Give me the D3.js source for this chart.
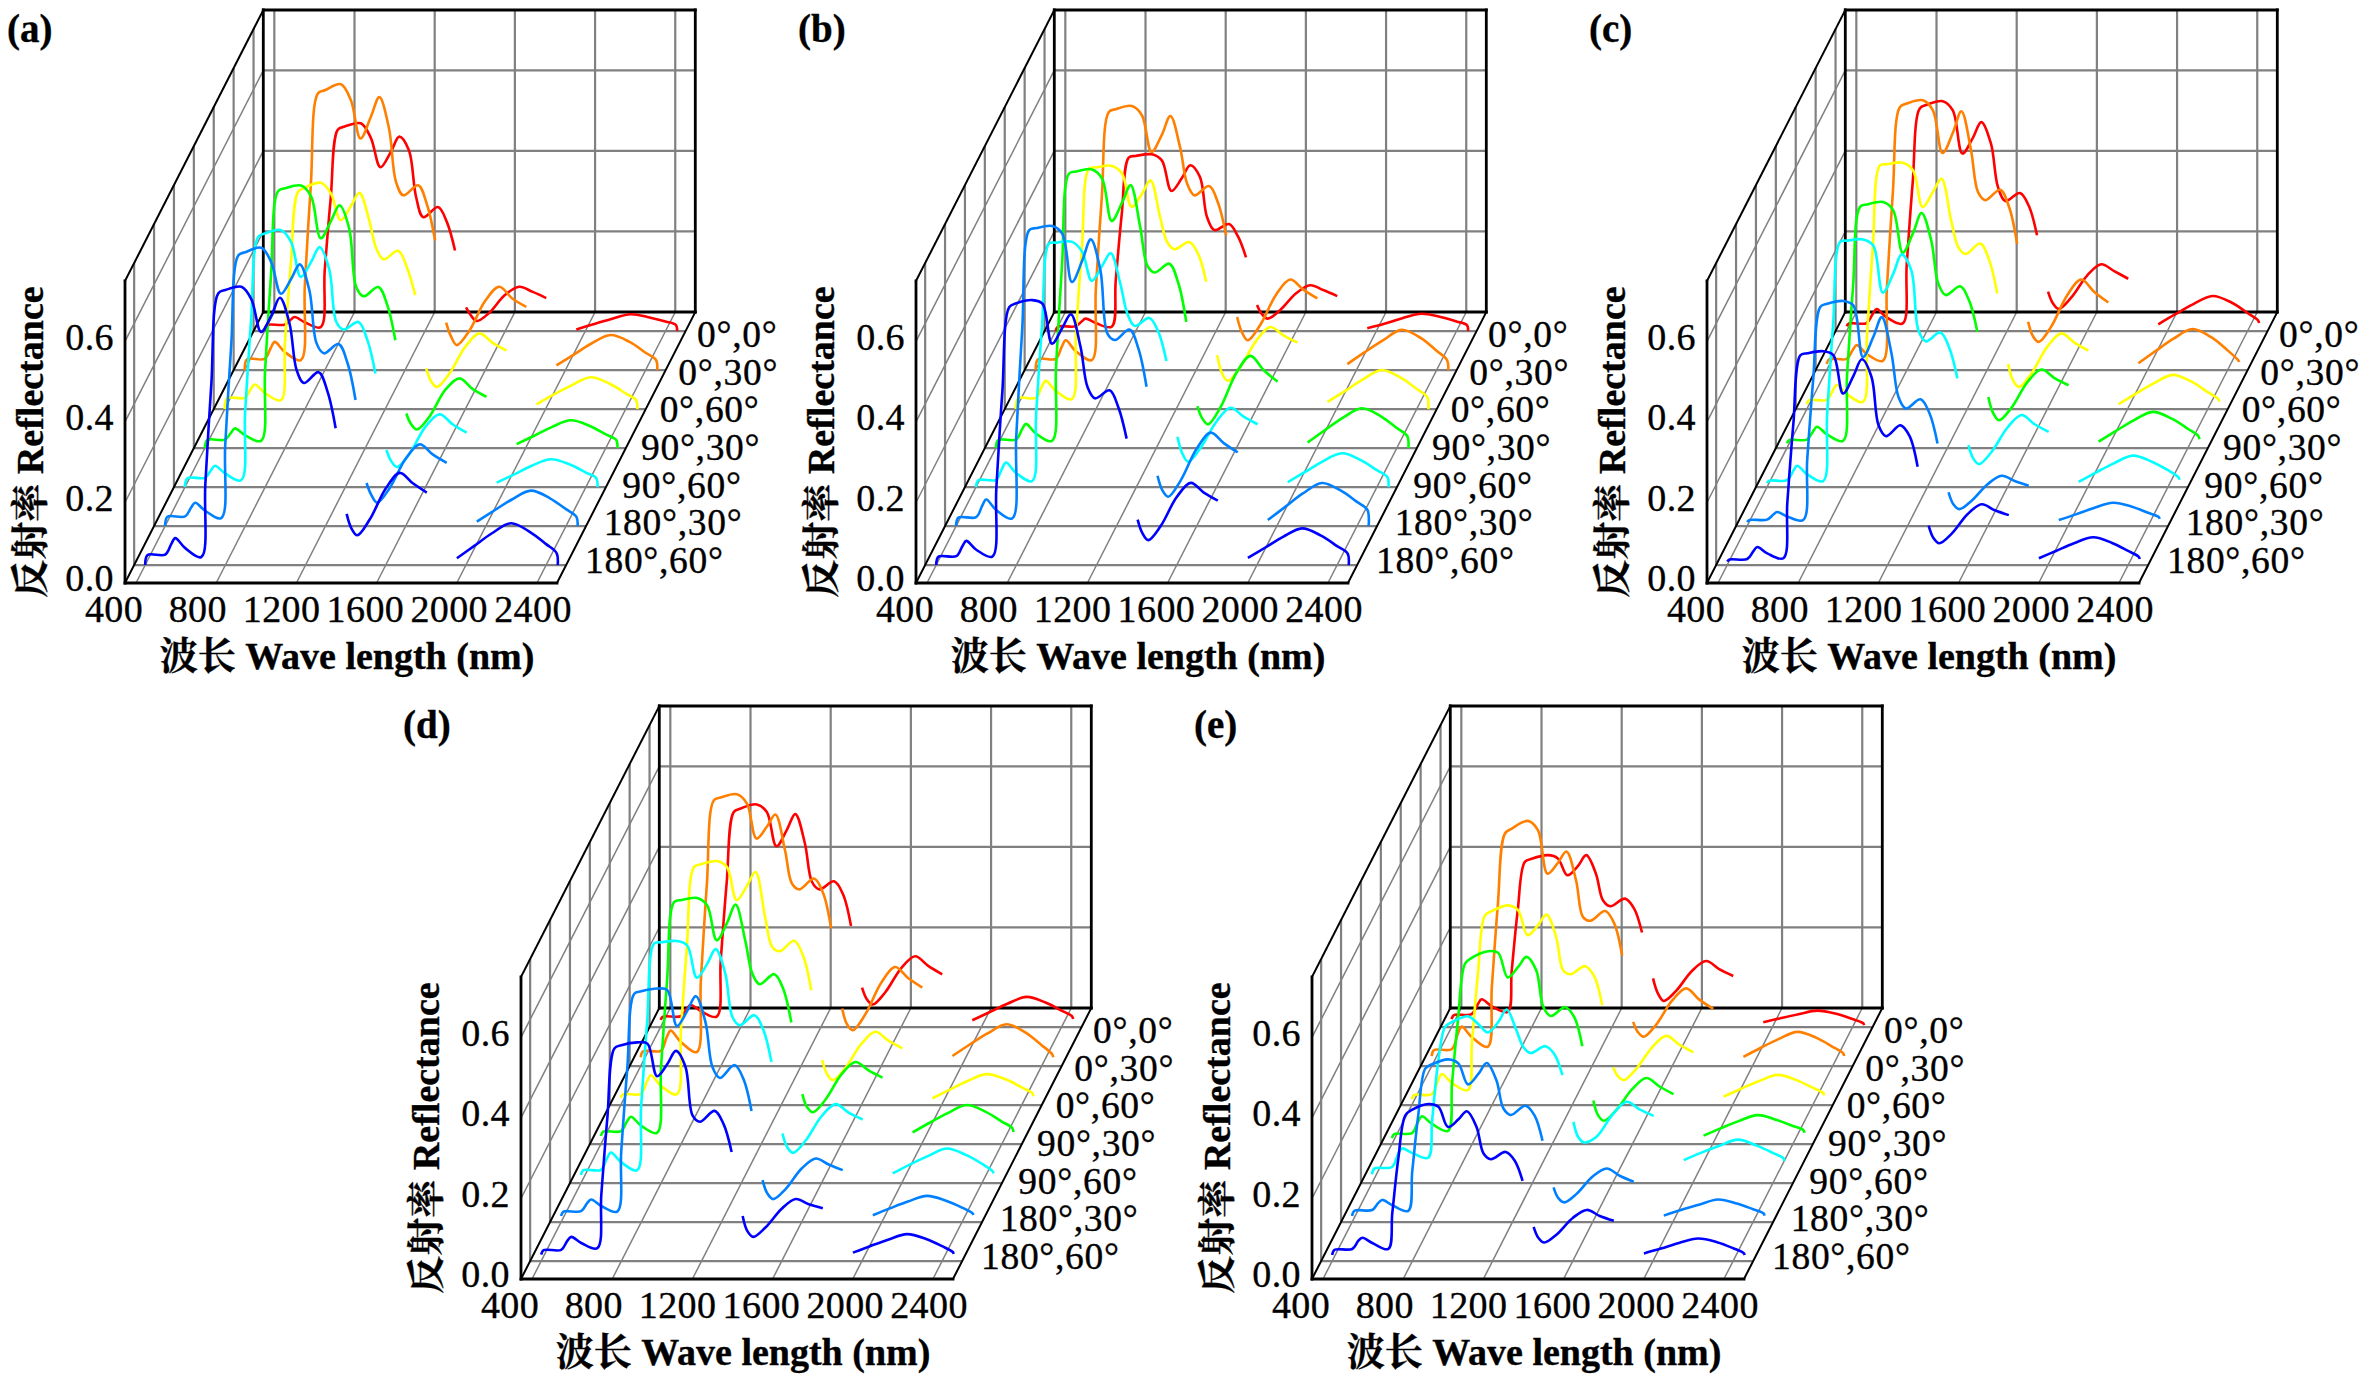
<!DOCTYPE html>
<html><head><meta charset="utf-8">
<script src="https://cdn.jsdelivr.net/npm/d3@7"></script>
<style>html,body{margin:0;padding:0;background:#fff}svg{display:block}text{font-family:"Liberation Serif","Noto Serif CJK SC","Noto Sans CJK SC",serif;fill:#000;stroke:#000;stroke-width:.35px}</style>
</head><body><svg id="c" width="2368" height="1386"></svg>
<script>
// wavelength grid shared by all spectra (water-vapour bands are left out)
const wlVis=[400,412,500,530,550,600,680,700,730,765,800,880,930,978,1030,1072,1120,1155,1192,1265,1310,1350];
const wlSwir1=[1405,1428,1458,1520,1600,1670,1735,1805];
const wlSwir2=[1955,2040,2130,2225,2320,2400,2452,2458];
const wlTicks=[400,800,1200,1600,2000,2400];
const rTicks=[0,0.2,0.4,0.6];
const angles=["0°,0°","0°,30°","0°,60°","90°,30°","90°,60°","180°,30°","180°,60°"];
const colors=["#ff0000","#ff8000","#ffff00","#00ff00","#00ffff","#0080ff","#0000ff"];
const panelNames=["(a)","(b)","(c)","(d)","(e)"];

// reflectance, one list per panel and view angle
const a_0_0=[.002,.015,.016,.028,.035,.022,.01,.15,.33,.50,.508,.516,.48,.407,.445,.483,.449,.335,.283,.308,.27,.20,.059,.04,.025,.045,.09,.11,.098,.082,.004,.017,.03,.042,.034,.024,.015,0];
const a_0_30=[0,.027,.028,.055,.07,.045,.025,.21,.46,.687,.695,.71,.67,.575,.63,.678,.60,.467,.434,.459,.41,.322,.118,.085,.062,.097,.172,.207,.178,.157,.012,.038,.066,.087,.07,.043,.025,0];
const a_0_60=[0,.027,.028,.05,.061,.04,.022,.165,.363,.539,.55,.562,.535,.469,.505,.537,.47,.40,.372,.393,.35,.283,.101,.07,.055,.088,.155,.188,.165,.145,.012,.036,.059,.079,.063,.039,.022,0];
const a_90_30=[0,.02,.021,.038,.049,.032,.018,.19,.43,.638,.645,.652,.625,.521,.565,.603,.545,.40,.377,.40,.355,.268,.086,.06,.046,.078,.145,.173,.147,.127,.01,.03,.052,.069,.055,.034,.02,0];
const a_90_60=[0,.022,.023,.042,.053,.034,.017,.185,.415,.621,.63,.638,.608,.522,.56,.596,.54,.41,.391,.41,.365,.282,.092,.065,.05,.083,.15,.181,.156,.135,.011,.031,.053,.069,.056,.036,.022,0];
const a_180_30=[0,.023,.024,.046,.058,.038,.02,.20,.45,.672,.68,.691,.655,.577,.615,.65,.585,.455,.429,.452,.405,.313,.107,.078,.058,.094,.167,.203,.178,.157,.011,.038,.066,.088,.069,.042,.023,0];
const a_180_60=[0,.025,.026,.052,.067,.042,.02,.20,.45,.675,.683,.691,.66,.579,.62,.664,.60,.485,.452,.479,.43,.34,.127,.092,.074,.113,.19,.229,.203,.18,.017,.047,.079,.104,.082,.052,.03,0];

const b_0_0=[0,.011,.012,.024,.031,.02,.011,.125,.29,.431,.435,.439,.424,.348,.38,.412,.383,.284,.251,.266,.235,.183,.065,.043,.031,.052,.094,.114,.102,.087,.007,.018,.032,.043,.035,.024,.015,0];
const b_0_30=[0,.027,.028,.058,.074,.047,.025,.20,.43,.641,.648,.656,.633,.542,.585,.631,.554,.464,.434,.457,.415,.335,.132,.095,.074,.112,.188,.225,.2,.178,.015,.044,.073,.10,.08,.048,.025,0];
const b_0_60=[0,.027,.028,.056,.07,.045,.025,.185,.40,.597,.60,.604,.585,.502,.535,.568,.477,.415,.397,.415,.385,.316,.134,.09,.07,.104,.17,.204,.183,.165,.018,.044,.073,.097,.078,.05,.03,0];
const b_90_30=[0,.02,.021,.046,.06,.036,.018,.20,.455,.682,.687,.692,.669,.564,.61,.653,.549,.454,.436,.458,.41,.313,.104,.075,.059,.101,.187,.229,.194,.165,.014,.044,.075,.099,.079,.05,.03,0];
const b_90_60=[0,.017,.018,.046,.061,.035,.015,.18,.405,.605,.607,.609,.584,.512,.55,.581,.505,.431,.40,.42,.385,.313,.125,.085,.063,.097,.163,.197,.175,.156,.012,.037,.064,.084,.067,.042,.025,0];
const b_180_30=[0,.021,.022,.05,.066,.04,.019,.22,.49,.735,.74,.745,.726,.606,.66,.712,.635,.478,.462,.488,.44,.346,.125,.09,.073,.113,.192,.232,.206,.183,.015,.047,.081,.107,.088,.06,.04,0];
const b_180_60=[0,.021,.022,.046,.06,.038,.021,.19,.43,.641,.65,.658,.649,.55,.59,.623,.542,.442,.414,.434,.39,.314,.113,.08,.062,.097,.169,.204,.18,.16,.018,.043,.07,.091,.073,.047,.029,0];

const c_0_0=[.012,.019,.02,.042,.055,.034,.019,.165,.37,.553,.562,.571,.548,.441,.48,.519,.466,.358,.323,.343,.31,.238,.098,.07,.055,.083,.138,.166,.149,.13,.017,.042,.067,.087,.071,.045,.027,.02];
const c_0_30=[.015,.027,.028,.05,.062,.04,.023,.2,.44,.653,.662,.67,.645,.539,.59,.643,.546,.442,.422,.448,.405,.314,.12,.085,.07,.108,.186,.225,.194,.168,.017,.047,.078,.102,.081,.049,.025,.02];
const c_0_60=[.012,.022,.023,.046,.06,.037,.018,.18,.405,.605,.608,.612,.593,.502,.54,.572,.469,.403,.385,.411,.37,.287,.112,.072,.055,.088,.155,.188,.165,.145,.012,.038,.064,.085,.068,.042,.025,.018];
const c_90_30=[.012,.02,.021,.041,.053,.034,.018,.18,.40,.599,.605,.611,.591,.485,.535,.584,.516,.409,.38,.402,.365,.289,.127,.088,.069,.1,.164,.195,.174,.156,.016,.042,.069,.09,.073,.048,.03,.022];
const c_90_60=[.01,.016,.017,.039,.053,.032,.015,.18,.405,.609,.612,.615,.60,.483,.53,.578,.538,.39,.362,.384,.345,.27,.104,.072,.057,.087,.148,.179,.156,.137,.013,.036,.059,.078,.063,.042,.025,.018];
const c_180_30=[.01,.015,.016,.028,.035,.024,.015,.165,.365,.544,.552,.559,.548,.42,.47,.519,.43,.321,.292,.315,.28,.205,.084,.055,.042,.063,.104,.125,.112,.1,.015,.029,.045,.058,.048,.033,.023,.018];
const c_180_60=[.009,.014,.015,.034,.045,.029,.017,.155,.35,.521,.526,.531,.521,.426,.47,.511,.467,.347,.32,.347,.32,.244,.098,.068,.054,.078,.127,.151,.136,.124,.017,.035,.054,.069,.055,.035,.021,.015];

const d_0_0=[.018,.026,.027,.045,.055,.04,.026,.165,.36,.534,.543,.553,.534,.449,.49,.529,.456,.361,.342,.362,.33,.251,.098,.07,.056,.086,.146,.176,.152,.131,.017,.037,.058,.075,.061,.041,.027,.02];
const d_0_30=[.022,.037,.038,.072,.088,.06,.035,.21,.45,.66,.667,.675,.652,.565,.595,.625,.536,.453,.439,.466,.43,.342,.143,.105,.089,.128,.207,.246,.218,.195,.025,.053,.081,.104,.083,.052,.03,.022];
const d_0_60=[.018,.027,.028,.058,.074,.048,.027,.185,.395,.591,.598,.606,.591,.509,.545,.579,.467,.393,.382,.408,.37,.285,.112,.078,.062,.092,.152,.182,.16,.141,.017,.038,.06,.077,.064,.044,.03,.022];
const d_90_30=[.02,.031,.032,.056,.068,.046,.028,.19,.405,.601,.606,.611,.593,.506,.55,.595,.506,.424,.397,.422,.385,.302,.124,.092,.079,.11,.173,.204,.183,.165,.029,.053,.077,.097,.08,.056,.04,.03];
const d_90_60=[.02,.032,.033,.062,.076,.052,.032,.19,.40,.595,.598,.601,.59,.51,.545,.581,.52,.413,.392,.417,.38,.301,.123,.09,.075,.105,.166,.196,.175,.158,.024,.046,.067,.086,.07,.048,.03,.024];
const d_180_30=[.015,.026,.027,.047,.056,.04,.026,.175,.38,.567,.573,.58,.576,.487,.525,.561,.497,.385,.358,.39,.355,.276,.104,.072,.057,.082,.133,.158,.143,.129,.017,.034,.051,.065,.053,.036,.022,.018];
const d_180_60=[.016,.027,.028,.05,.06,.045,.032,.165,.355,.528,.536,.543,.54,.459,.49,.522,.482,.362,.346,.373,.34,.271,.112,.075,.06,.084,.13,.154,.141,.131,.021,.037,.053,.067,.055,.037,.023,.018];

const e_0_0=[.02,.03,.032,.056,.069,.052,.038,.14,.29,.41,.418,.427,.419,.377,.40,.427,.381,.315,.30,.319,.295,.235,.121,.085,.065,.09,.14,.164,.144,.127,.012,.022,.032,.041,.033,.02,.01,.005];
const e_0_30=[.025,.04,.042,.08,.098,.072,.048,.195,.40,.577,.59,.609,.586,.478,.505,.533,.462,.37,.361,.385,.355,.275,.11,.085,.073,.103,.163,.193,.165,.142,.023,.045,.067,.085,.07,.048,.032,.025];
const e_0_60=[.015,.025,.027,.06,.077,.055,.037,.155,.325,.471,.482,.496,.484,.422,.447,.473,.418,.335,.325,.345,.32,.248,.094,.072,.062,.09,.144,.172,.15,.131,.021,.04,.059,.075,.062,.043,.03,.024];
const e_90_30=[.015,.025,.027,.055,.069,.05,.033,.15,.31,.448,.463,.479,.475,.414,.44,.465,.432,.341,.318,.34,.315,.243,.108,.072,.058,.085,.137,.164,.143,.124,.021,.039,.057,.072,.06,.045,.035,.028];
const e_90_60=[.022,.036,.04,.072,.086,.075,.063,.155,.30,.388,.40,.414,.395,.374,.40,.431,.38,.338,.323,.34,.32,.268,.152,.115,.101,.115,.17,.202,.183,.167,.057,.075,.092,.108,.093,.075,.062,.055];
const e_180_30=[.015,.028,.03,.047,.055,.042,.028,.125,.265,.381,.392,.404,.394,.342,.368,.395,.352,.282,.266,.289,.265,.202,.086,.06,.049,.07,.113,.133,.115,.10,.016,.03,.043,.056,.046,.032,.022,.016];
const e_180_60=[.015,.028,.03,.05,.058,.045,.03,.12,.255,.362,.376,.39,.383,.333,.352,.372,.333,.267,.253,.271,.25,.199,.085,.058,.046,.066,.107,.127,.112,.10,.019,.031,.045,.056,.047,.032,.02,.015];

const panelSpectra=[
 [a_0_0,a_0_30,a_0_60,a_90_30,a_90_60,a_180_30,a_180_60],
 [b_0_0,b_0_30,b_0_60,b_90_30,b_90_60,b_180_30,b_180_60],
 [c_0_0,c_0_30,c_0_60,c_90_30,c_90_60,c_180_30,c_180_60],
 [d_0_0,d_0_30,d_0_60,d_90_30,d_90_60,d_180_30,d_180_60],
 [e_0_0,e_0_30,e_0_60,e_90_30,e_90_60,e_180_30,e_180_60]];

const layout=[[0,0],[791,0],[1582,0],[396,696],[1187,696]];

// oblique projection built from three scales
const xS=d3.scaleLinear().domain([345,2500]).range([125,557]);       // wavelength along the front edge
const zS=d3.scaleLinear().domain([0,0.75]).range([0,302]);           // reflectance upwards
const depth=d3.scaleLinear().domain([-0.46,6.49]).range([0,1]);      // row index into the picture
const dxS=d3.scaleLinear().domain([0,1]).range([0,138.3]);
const dyS=d3.scaleLinear().domain([0,1]).range([583,312]);
const P=(w,d,r)=>[xS(w)+dxS(depth(d)),dyS(depth(d))-zS(r)];
const D0=-0.46,D1=6.49,W0=345,W1=2500,R1=0.75;
const wXLabel=d3.scaleLinear().domain([400,2400]).range([114,533]);
const rYLabel=d3.scaleLinear().domain([0,0.6]).range([591,350]);
const rowX=d3.scaleLinear().domain([6,0]).range([697,585]);
const rowY=d3.scaleLinear().domain([6,0]).range([347,573]);

const svg=d3.select("#c");
const seg=d3.line().curve(d3.curveCatmullRom.alpha(0.5));
const L=(g,a,b,col,w)=>g.append("line").attr("x1",a[0]).attr("y1",a[1]).attr("x2",b[0]).attr("y2",b[1]).attr("stroke",col).attr("stroke-width",w);

panelSpectra.forEach((curves,pi)=>{
  const g=svg.append("g").attr("transform",`translate(${layout[pi][0]},${layout[pi][1]})`);
  const grey="#808080";
  const grid=g.append("g");
  // back wall
  wlTicks.forEach(w=>L(grid,P(w,D1,0),P(w,D1,R1),grey,2.2));
  rTicks.slice(1).forEach(r=>L(grid,P(W0,D1,r),P(W1,D1,r),grey,2.2));
  // left wall
  angles.forEach((_,i)=>L(grid,P(W0,i,0),P(W0,i,R1),grey,2.2));
  rTicks.slice(1).forEach(r=>L(grid,P(W0,D0,r),P(W0,D1,r),grey,1.5));
  // floor
  wlTicks.forEach(w=>L(grid,P(w,D0,0),P(w,D1,0),grey,1.5));
  angles.forEach((_,i)=>L(grid,P(W0,i,0),P(W1,i,0),grey,2.2));
  // frame
  const f=g.append("g").attr("stroke-linecap","square");
  L(f,P(W0,D1,0),P(W0,D1,R1),"#000",2.8);
  L(f,P(W0,D1,R1),P(W1,D1,R1),"#000",2.8);
  L(f,P(W1,D1,R1),P(W1,D1,0),"#000",2.8);
  L(f,P(W0,D1,0),P(W1,D1,0),"#000",2.8);
  L(f,P(W0,D0,0),P(W1,D0,0),"#000",2.8);
  L(f,P(W0,D0,0),P(W0,D0,R1),"#000",2.8);
  L(f,P(W0,D0,R1),P(W0,D1,R1),"#000",2);
  L(f,P(W0,D0,0),P(W0,D1,0),"#000",2);
  L(f,P(W1,D0,0),P(W1,D1,0),"#000",2);
  // spectra: back row first, row index 6 = 0°,0°
  curves.forEach((vals,k)=>{
    const row=6-k;
    const n1=wlVis.length,n2=wlSwir1.length;
    [[wlVis,vals.slice(0,n1)],[wlSwir1,vals.slice(n1,n1+n2)],[wlSwir2,vals.slice(n1+n2)]].forEach(([ws,rs])=>{
      g.append("path").attr("fill","none").attr("stroke",colors[k]).attr("stroke-width",2.6)
       .attr("stroke-linejoin","round")
       .attr("d",seg(ws.map((w,j)=>P(w,row,rs[j]))));
    });
  });
  // tick labels
  wlTicks.forEach(w=>g.append("text").attr("x",wXLabel(w)).attr("y",622).attr("text-anchor","middle").attr("font-size",38).attr("letter-spacing",0.4).text(w));
  rTicks.forEach(r=>g.append("text").attr("x",114).attr("y",rYLabel(r)).attr("text-anchor","end").attr("font-size",38).attr("letter-spacing",0.4).text(r.toFixed(1)));
  angles.forEach((t,k)=>g.append("text").attr("x",rowX(6-k)).attr("y",rowY(6-k)).attr("font-size",37.5).attr("letter-spacing",0.7).text(t));
  // titles
  g.append("text").attr("x",347).attr("y",669).attr("text-anchor","middle").attr("font-size",38).attr("font-weight","bold").text("波长 Wave length (nm)");
  g.append("text").attr("transform","translate(43,442) rotate(-90)").attr("text-anchor","middle").attr("font-size",38).attr("font-weight","bold").text("反射率 Reflectance");
  g.append("text").attr("x",7).attr("y",42).attr("font-size",39).attr("font-weight","bold").text(panelNames[pi]);
});
</script></body></html>
